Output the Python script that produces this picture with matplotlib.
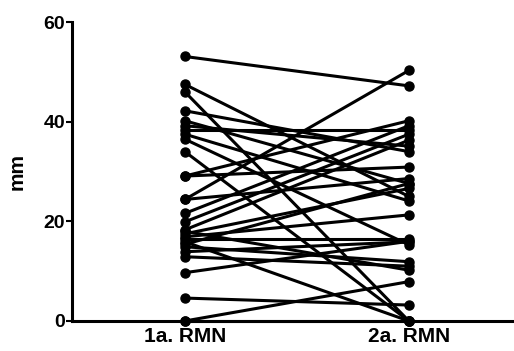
import matplotlib
matplotlib.use("Agg")
import matplotlib.pyplot as plt

# paired measurements (mm), first vs second RMN
groups = ["1a. RMN", "2a. RMN"]
first = [53.1, 47.5, 46.0, 42.2, 40.2, 39.2, 38.4, 37.5, 36.5, 34.0,
         29.1, 29.1, 24.4, 24.4, 21.6, 19.9, 18.3, 17.5, 16.9, 16.4,
         15.9, 14.9, 13.9, 12.9, 9.7, 4.6, 0.0, 0.0, 15.4, 18.0]
second = [47.2, 25.0, 0.0, 34.0, 27.6, 35.1, 38.4, 24.1, 15.3, 0.0,
          40.2, 30.9, 50.3, 28.6, 39.2, 37.5, 36.3, 26.6, 21.3, 16.4,
          0.0, 11.9, 15.9, 11.0, 16.0, 3.2, 7.9, 0.0, 27.6, 10.2]
yticks = [0, 20, 40, 60]

plt.rcParams['font.family'] = ['Liberation Sans', 'DejaVu Sans']
plt.rcParams['font.weight'] = 'bold'

fig = plt.figure(figsize=(5.14, 3.51), dpi=100)
ax = fig.add_axes([0.140, 0.0855, 0.856, 0.8515])

for a, b in zip(first, second):
    ax.plot([0, 1], [a, b], color='black', lw=2.2, marker='o', ms=6.5,
            clip_on=False, solid_capstyle='round')

ax.set_xlim(-0.504, 1.46)
ax.set_ylim(0, 60)
ax.set_yticks(yticks)
ax.set_xticks([0, 1])
ax.set_xticklabels(groups, fontsize=15, fontweight='bold')
ax.tick_params(axis='x', length=0, pad=4)
ax.tick_params(axis='y', length=4, width=1.5, labelsize=14, pad=1)
for lbl in ax.get_yticklabels():
    lbl.set_fontweight('bold')
ax.set_ylabel("mm", fontsize=15, fontweight='bold', labelpad=12)

for s in ['top', 'right']:
    ax.spines[s].set_visible(False)
for s in ['left', 'bottom']:
    ax.spines[s].set_linewidth(2.2)

fig.savefig("out.png", dpi=100)
